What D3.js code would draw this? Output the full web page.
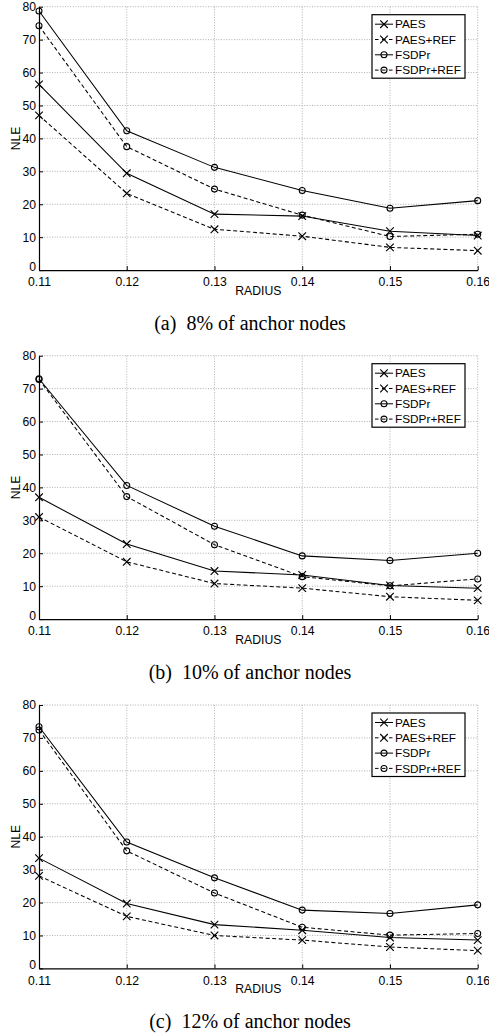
<!DOCTYPE html>
<html>
<head>
<meta charset="utf-8">
<script src="https://cdn.jsdelivr.net/npm/d3@7"></script>
<style>
  html, body { margin: 0; padding: 0; background: #fff; }
  svg { display: block; }
</style>
</head>
<body>
<svg id="chart" width="489" height="1035"></svg>
<script>
// ---------------- DATA ----------------
const radius = [0.11, 0.12, 0.13, 0.14, 0.15, 0.16];
const xTickLabels = ["0.11", "0.12", "0.13", "0.14", "0.15", "0.16"];
const yTicks = [0, 10, 20, 30, 40, 50, 60, 70, 80];
const seriesNames = ["PAES", "PAES+REF", "FSDPr", "FSDPr+REF"];
const captions = ["(a)\u00a0\u00a08% of anchor nodes", "(b)\u00a0\u00a010% of anchor nodes", "(c)\u00a0\u00a012% of anchor nodes"];

// 8% anchors
const paes8      = [56.4, 29.4, 17.0, 16.4, 11.8, 10.5];
const paesRef8   = [47.0, 23.3, 12.4, 10.3, 6.9, 5.9];
const fsdpr8     = [78.7, 42.3, 31.2, 24.2, 18.8, 21.1];
const fsdprRef8  = [74.2, 37.5, 24.6, 16.7, 10.2, 10.9];
// 10% anchors
const paes10     = [37.0, 22.8, 14.6, 13.4, 10.2, 9.4];
const paesRef10  = [31.0, 17.4, 10.8, 9.4, 6.8, 5.7];
const fsdpr10    = [73.0, 40.6, 28.2, 19.2, 17.8, 20.0];
const fsdprRef10 = [72.8, 37.2, 22.6, 12.9, 10.1, 12.2];
// 12% anchors
const paes12     = [33.5, 19.7, 13.3, 11.6, 9.4, 8.6];
const paesRef12  = [28.1, 15.8, 10.0, 8.6, 6.5, 5.4];
const fsdpr12    = [73.4, 38.4, 27.5, 17.7, 16.7, 19.3];
const fsdprRef12 = [72.4, 35.7, 22.9, 12.5, 10.1, 10.6];

const panelsData = [
  [paes8, paesRef8, fsdpr8, fsdprRef8],
  [paes10, paesRef10, fsdpr10, fsdprRef10],
  [paes12, paesRef12, fsdpr12, fsdprRef12]
];

// ---------------- STYLE / LAYOUT ----------------
const seriesStyle = [
  { marker: "x", dash: null },
  { marker: "x", dash: "4,2.6" },
  { marker: "o", dash: null },
  { marker: "o", dash: "4,2.6" }
];
const panelTops = [6.7, 355.7, 705];
const plotLeft = 39, plotRight = 477.7, plotH = 263.4;
const sansFont = "'Liberation Sans', Arial, Helvetica, sans-serif";
const serifFont = "'Liberation Serif', 'Times New Roman', serif";
const tickFont = 12.2;

const svg = d3.select("#chart");

const x = d3.scaleLinear().domain([0.11, 0.16]).range([plotLeft, plotRight]);
const y = d3.scaleLinear().domain([0, 80]).range([plotH, 0]);

function drawMarker(g, type, cx, cy) {
  if (type === "x") {
    const s = 3.8;
    g.append("path")
      .attr("d", `M${cx - s},${cy - s}L${cx + s},${cy + s}M${cx - s},${cy + s}L${cx + s},${cy - s}`)
      .attr("stroke", "#000").attr("stroke-width", 1.15).attr("fill", "none");
  } else {
    g.append("circle").attr("cx", cx).attr("cy", cy).attr("r", 3)
      .attr("stroke", "#000").attr("stroke-width", 1.05).attr("fill", "none");
  }
}

panelsData.forEach((series, pi) => {
  const g = svg.append("g").attr("transform", `translate(0,${panelTops[pi]})`);

  // grid
  const grid = g.append("g");
  grid.selectAll("line.gx").data(radius.slice(1)).join("line")
    .attr("x1", d => x(d)).attr("x2", d => x(d))
    .attr("y1", 0).attr("y2", plotH)
    .attr("stroke", "#9a9a9a").attr("stroke-width", 0.8).attr("stroke-dasharray", "1,1.6");
  grid.selectAll("line.gy").data(yTicks.slice(1)).join("line")
    .attr("x1", plotLeft).attr("x2", plotRight)
    .attr("y1", d => y(d)).attr("y2", d => y(d))
    .attr("stroke", "#9a9a9a").attr("stroke-width", 0.8).attr("stroke-dasharray", "1,1.6");

  // axes
  const xAxis = d3.axisBottom(x).tickValues(radius)
    .tickFormat((d, i) => xTickLabels[i]).tickSizeInner(-4).tickSizeOuter(0).tickPadding(7.5);
  const gx = g.append("g").attr("transform", `translate(0,${plotH})`).call(xAxis);
  gx.select(".domain").attr("stroke", "#000").attr("stroke-width", 1.2);
  gx.selectAll(".tick line").attr("stroke", "#000");
  gx.selectAll("text").attr("font-family", sansFont).attr("font-size", tickFont).attr("fill", "#000");

  const yAxis = d3.axisLeft(y).tickValues(yTicks).tickSizeInner(-4).tickSizeOuter(0).tickPadding(3);
  const gy = g.append("g").attr("transform", `translate(${plotLeft},0)`).call(yAxis);
  gy.select(".domain").attr("stroke", "#000").attr("stroke-width", 1.2);
  gy.selectAll(".tick line").attr("stroke", "#000");
  gy.selectAll("text").attr("font-family", sansFont).attr("font-size", tickFont).attr("fill", "#000")
    .attr("y", d => d === 0 ? -3.5 : 0);

  // axis labels
  g.append("text").attr("x", (plotLeft + plotRight) / 2).attr("y", plotH + 25)
    .attr("text-anchor", "middle").attr("font-family", sansFont).attr("font-size", tickFont)
    .text("RADIUS");
  g.append("text").attr("transform", `translate(20,${plotH / 2}) rotate(-90)`)
    .attr("text-anchor", "middle").attr("font-family", sansFont).attr("font-size", tickFont)
    .text("NLE");

  // lines
  const line = d3.line().x((d, i) => x(radius[i])).y(d => y(d));
  series.forEach((vals, si) => {
    const st = seriesStyle[si];
    g.append("path").datum(vals).attr("d", line)
      .attr("fill", "none").attr("stroke", "#000").attr("stroke-width", 1.05)
      .attr("stroke-dasharray", st.dash);
    const mg = g.append("g");
    vals.forEach((v, i) => drawMarker(mg, st.marker, x(radius[i]), y(v)));
  });

  // legend
  const lg = g.append("g").attr("transform", `translate(372,8)`);
  lg.append("rect").attr("x", 0).attr("y", 0).attr("width", 93).attr("height", 63.5)
    .attr("fill", "#fff").attr("stroke", "#000").attr("stroke-width", 1.2);
  seriesNames.forEach((name, si) => {
    const st = seriesStyle[si];
    const cy = 9.5 + si * 15.3;
    lg.append("line").attr("x1", 3).attr("x2", 21).attr("y1", cy).attr("y2", cy)
      .attr("stroke", "#000").attr("stroke-width", 1).attr("stroke-dasharray", st.dash ? "3.5,3.5" : null);
    drawMarker(lg, st.marker, 12, cy);
    lg.append("text").attr("x", 23).attr("y", cy + 4.3)
      .attr("font-family", sansFont).attr("font-size", 11.8).text(name);
  });

  // caption
  g.append("text").attr("x", 250).attr("y", plotH + 60)
    .attr("text-anchor", "middle").attr("font-family", serifFont).attr("font-size", 20)
    .text(captions[pi]);
});
</script>
</body>
</html>
